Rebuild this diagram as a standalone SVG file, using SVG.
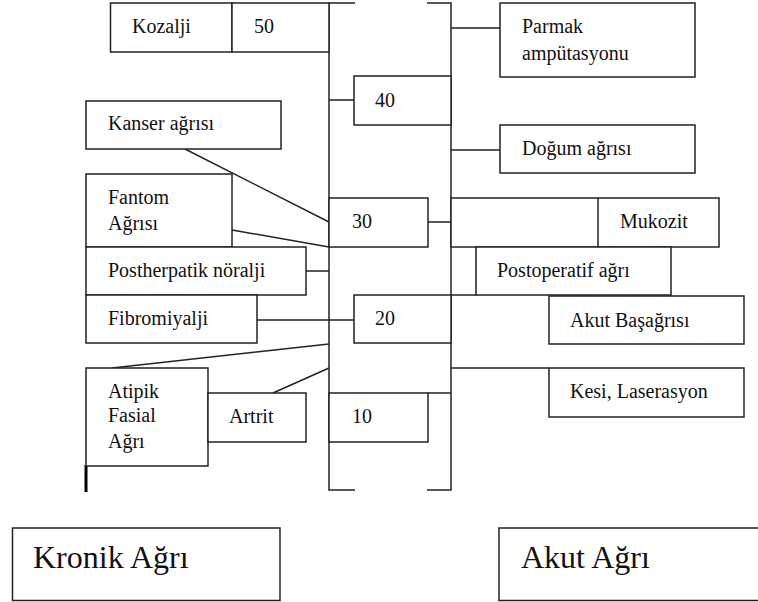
<svg xmlns="http://www.w3.org/2000/svg" width="758" height="602" viewBox="0 0 758 602">
<style>
.b{fill:#fff;stroke:#222;stroke-width:1.5}
.c{fill:none;stroke:#222;stroke-width:1.5}
.t{font-family:"Liberation Serif","Times New Roman",serif;font-size:20px;fill:#111}
.tl{font-family:"Liberation Serif","Times New Roman",serif;font-size:32px;fill:#111}
</style>
<rect width="758" height="602" fill="#fff"/>
<g id="connectors">
<path class="c" d="M355,3H329V490H355M427,3H451V490H427"/>
<path class="c" d="M329,100H354M451,28H500M451,150H500M428,222H451M306,271H329M257,320H354M428,393H451M451,295H476M451,368H549"/>
<path class="c" d="M185,149L329,222M232,230L329,247M329,344L112,368M273,393L329,368"/>
<path fill="none" stroke="#000" stroke-width="3" d="M86,465V492"/>
</g>
<g id="kozalji"><rect class="b" x="110.5" y="3" width="121.5" height="49"/><text class="t" x="132" y="33">Kozalji</text></g>
<g id="n50"><rect class="b" x="232" y="3" width="97" height="49"/><text class="t" x="254" y="33">50</text></g>
<g id="n40"><rect class="b" x="354" y="76" width="97" height="49"/><text class="t" x="375" y="107">40</text></g>
<g id="kanser"><rect class="b" x="86" y="101" width="195" height="48"/><text class="t" x="108" y="130">Kanser ağrısı</text></g>
<g id="fantom"><rect class="b" x="86" y="174" width="146" height="73"/><text class="t" x="108" y="204">Fantom</text><text class="t" x="108" y="230">Ağrısı</text></g>
<g id="n30"><rect class="b" x="329" y="198" width="99" height="49"/><text class="t" x="352" y="228">30</text></g>
<g id="postherpatik"><rect class="b" x="86" y="247" width="220" height="48"/><text class="t" x="108" y="277">Postherpatik nöralji</text></g>
<g id="fibromiyalji"><rect class="b" x="86" y="295" width="171" height="48"/><text class="t" x="108" y="325">Fibromiyalji</text></g>
<g id="n20"><rect class="b" x="354" y="295" width="97" height="48"/><text class="t" x="375" y="325">20</text></g>
<g id="atipik"><rect class="b" x="86" y="368" width="122" height="98"/><text class="t" x="108" y="398">Atipik</text><text class="t" x="108" y="422">Fasial</text><text class="t" x="108" y="448">Ağrı</text></g>
<g id="artrit"><rect class="b" x="208" y="393" width="98" height="49"/><text class="t" x="229" y="423">Artrit</text></g>
<g id="n10"><rect class="b" x="329" y="393" width="99" height="49"/><text class="t" x="352" y="423">10</text></g>
<g id="parmak"><rect class="b" x="500" y="3" width="195" height="74"/><text class="t" x="522" y="33">Parmak</text><text class="t" x="522" y="60">ampütasyonu</text></g>
<g id="dogum"><rect class="b" x="500" y="125" width="195" height="48"/><text class="t" x="522" y="155">Doğum ağrısı</text></g>
<g id="mukozit"><rect class="b" x="451" y="198" width="268" height="49"/><line class="c" x1="598" y1="198" x2="598" y2="247"/><text class="t" x="620" y="228">Mukozit</text></g>
<g id="postoperatif"><rect class="b" x="476" y="247" width="195" height="48"/><text class="t" x="497" y="277">Postoperatif ağrı</text></g>
<g id="akutbas"><rect class="b" x="549" y="296" width="195" height="48"/><text class="t" x="570" y="327">Akut Başağrısı</text></g>
<g id="kesi"><rect class="b" x="549" y="368" width="195" height="49"/><text class="t" x="570" y="398">Kesi, Laserasyon</text></g>
<g id="kronik"><rect class="b" x="12.5" y="528" width="267.5" height="72.5" stroke-width="2"/><text class="tl" x="33" y="568">Kronik Ağrı</text></g>
<g id="akut"><rect class="b" x="499" y="528" width="270" height="72.5" stroke-width="2"/><text class="tl" x="521" y="568">Akut Ağrı</text></g>
</svg>
